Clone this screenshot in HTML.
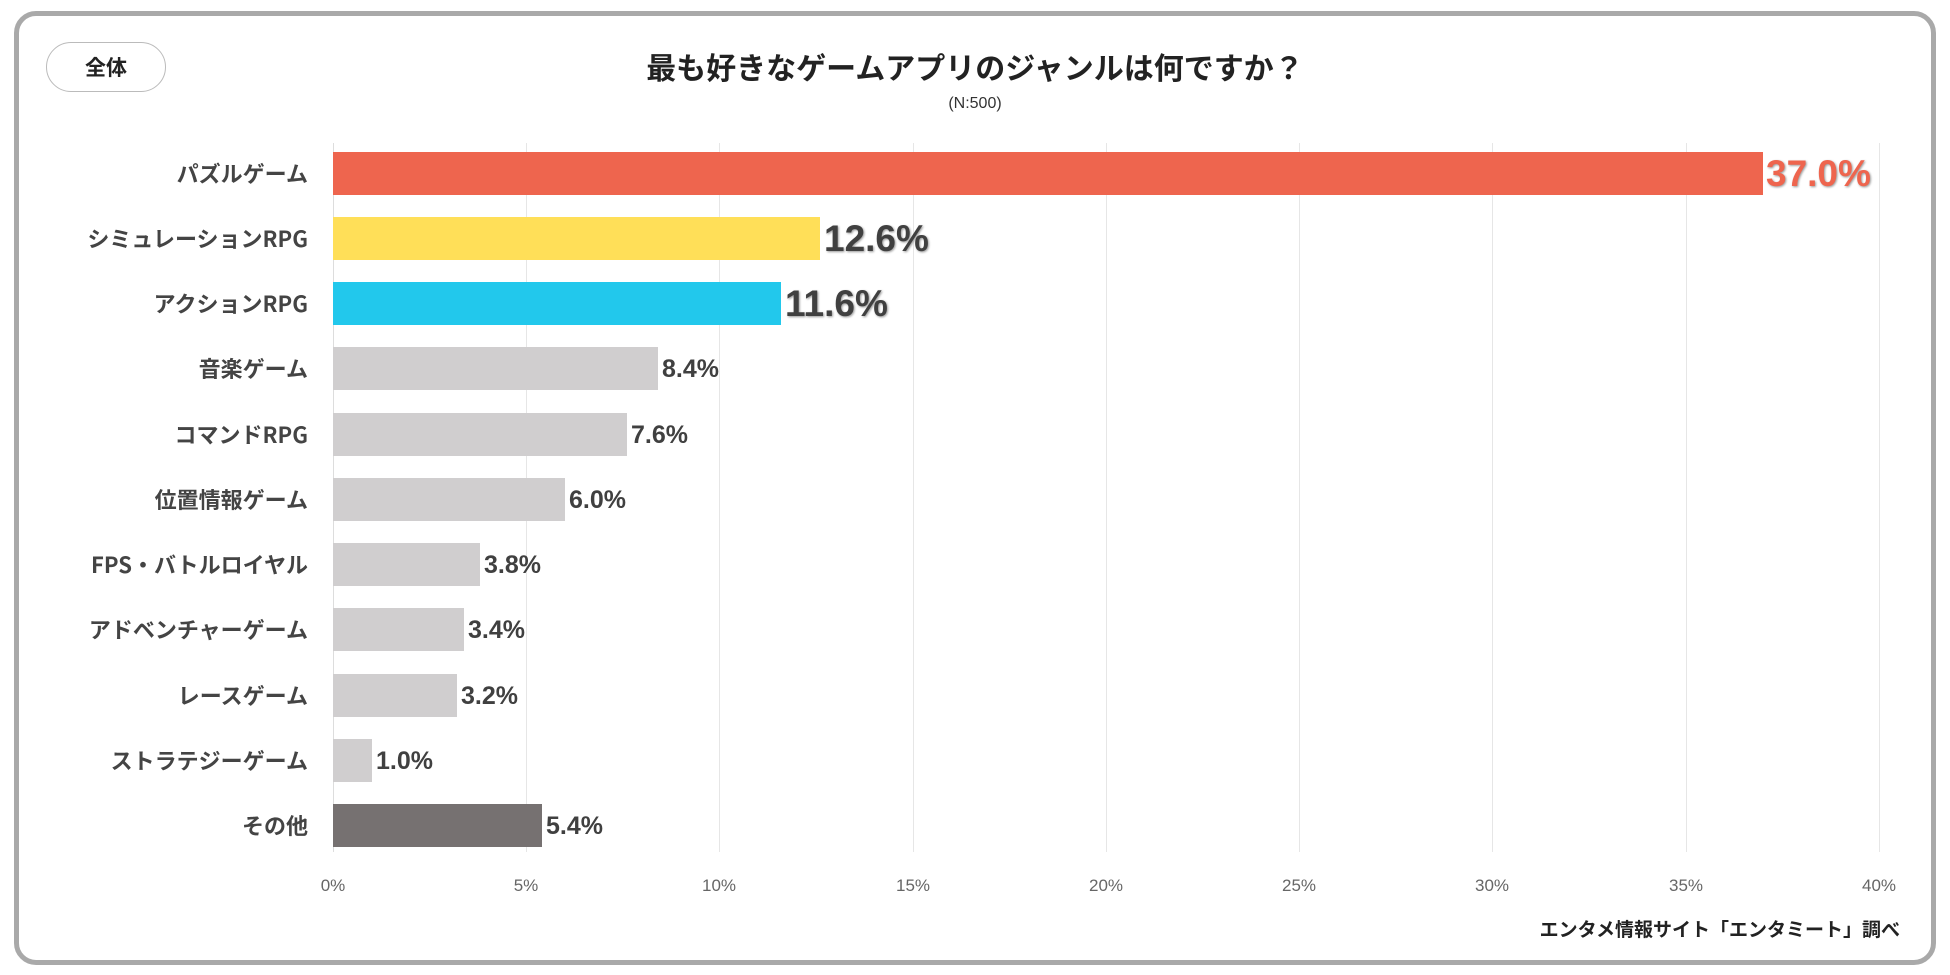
<!DOCTYPE html>
<html><head><meta charset="utf-8"><style>
body{margin:0;width:1950px;height:975px;background:#fff;position:relative;overflow:hidden;font-family:"Liberation Sans","Noto Sans CJK JP",sans-serif;}
.jp{font-family:"Noto Sans CJK JP",sans-serif;}
.frame{position:absolute;left:14px;top:11px;width:1912px;height:944px;border:5px solid #a9a9a9;border-radius:22px;}
.btn{position:absolute;left:46px;top:42px;width:118px;height:48px;border:1px solid #bbb;border-radius:25px;text-align:center;line-height:48px;font-size:21px;font-weight:bold;color:#222;}
.title{position:absolute;left:0;width:1950px;top:44px;text-align:center;font-size:30px;font-weight:bold;color:#222;line-height:44px;}
.n{position:absolute;left:0;width:1950px;top:95px;text-align:center;font-size:16px;color:#333;}
.grid{position:absolute;top:143px;height:709px;width:1px;background:#e6e6e6;}
.tick{position:absolute;top:876px;width:60px;margin-left:-30px;text-align:center;font-size:17px;color:#666;}
.cat{position:absolute;right:1642px;font-size:22px;font-weight:bold;color:#444;white-space:nowrap;line-height:43px;font-family:"Noto Sans CJK JP",sans-serif;}
.bar{position:absolute;left:333px;height:43px;}
.val{position:absolute;font-weight:bold;color:#404040;white-space:nowrap;}
.foot{position:absolute;right:50px;top:915px;font-size:19px;font-weight:bold;color:#222;font-family:"Noto Sans CJK JP",sans-serif;}
</style></head><body>
<div class="frame"></div>
<div class="btn jp">全体</div>
<div class="title jp">最も好きなゲームアプリのジャンルは何ですか？</div>
<div class="n">(N:500)</div>
<div class="grid" style="left:333px;background:#ddd"></div>
<div class="grid" style="left:526px"></div>
<div class="grid" style="left:719px"></div>
<div class="grid" style="left:913px"></div>
<div class="grid" style="left:1106px"></div>
<div class="grid" style="left:1299px"></div>
<div class="grid" style="left:1492px"></div>
<div class="grid" style="left:1686px"></div>
<div class="grid" style="left:1879px"></div>
<div class="tick" style="left:333px">0%</div>
<div class="tick" style="left:526px">5%</div>
<div class="tick" style="left:719px">10%</div>
<div class="tick" style="left:913px">15%</div>
<div class="tick" style="left:1106px">20%</div>
<div class="tick" style="left:1299px">25%</div>
<div class="tick" style="left:1492px">30%</div>
<div class="tick" style="left:1686px">35%</div>
<div class="tick" style="left:1879px">40%</div>

<div class="cat" style="top:152px">パズルゲーム</div>
<div class="bar" style="top:152px;width:1430px;background:#EE654E"></div>
<div class="val" style="top:152px;left:1766px;font-size:37px;line-height:43px;color:#EE654E;text-shadow:1px 1px 2px #999">37.0%</div>

<div class="cat" style="top:217px">シミュレーションRPG</div>
<div class="bar" style="top:217px;width:487px;background:#FFDF58"></div>
<div class="val" style="top:217px;left:824px;font-size:37px;line-height:43px;text-shadow:1px 1px 2px #999">12.6%</div>

<div class="cat" style="top:282px">アクションRPG</div>
<div class="bar" style="top:282px;width:448px;background:#22C8EC"></div>
<div class="val" style="top:282px;left:785px;font-size:37px;line-height:43px;text-shadow:1px 1px 2px #999">11.6%</div>

<div class="cat" style="top:347px">音楽ゲーム</div>
<div class="bar" style="top:347px;width:325px;background:#D0CECF"></div>
<div class="val" style="top:347px;left:662px;font-size:25px;line-height:45px">8.4%</div>

<div class="cat" style="top:413px">コマンドRPG</div>
<div class="bar" style="top:413px;width:294px;background:#D0CECF"></div>
<div class="val" style="top:413px;left:631px;font-size:25px;line-height:45px">7.6%</div>

<div class="cat" style="top:478px">位置情報ゲーム</div>
<div class="bar" style="top:478px;width:232px;background:#D0CECF"></div>
<div class="val" style="top:478px;left:569px;font-size:25px;line-height:45px">6.0%</div>

<div class="cat" style="top:543px">FPS・バトルロイヤル</div>
<div class="bar" style="top:543px;width:147px;background:#D0CECF"></div>
<div class="val" style="top:543px;left:484px;font-size:25px;line-height:45px">3.8%</div>

<div class="cat" style="top:608px">アドベンチャーゲーム</div>
<div class="bar" style="top:608px;width:131px;background:#D0CECF"></div>
<div class="val" style="top:608px;left:468px;font-size:25px;line-height:45px">3.4%</div>

<div class="cat" style="top:674px">レースゲーム</div>
<div class="bar" style="top:674px;width:124px;background:#D0CECF"></div>
<div class="val" style="top:674px;left:461px;font-size:25px;line-height:45px">3.2%</div>

<div class="cat" style="top:739px">ストラテジーゲーム</div>
<div class="bar" style="top:739px;width:39px;background:#D0CECF"></div>
<div class="val" style="top:739px;left:376px;font-size:25px;line-height:45px">1.0%</div>

<div class="cat" style="top:804px">その他</div>
<div class="bar" style="top:804px;width:209px;background:#767171"></div>
<div class="val" style="top:804px;left:546px;font-size:25px;line-height:45px">5.4%</div>

<div class="foot">エンタメ情報サイト「エンタミート」調べ</div>
</body></html>
